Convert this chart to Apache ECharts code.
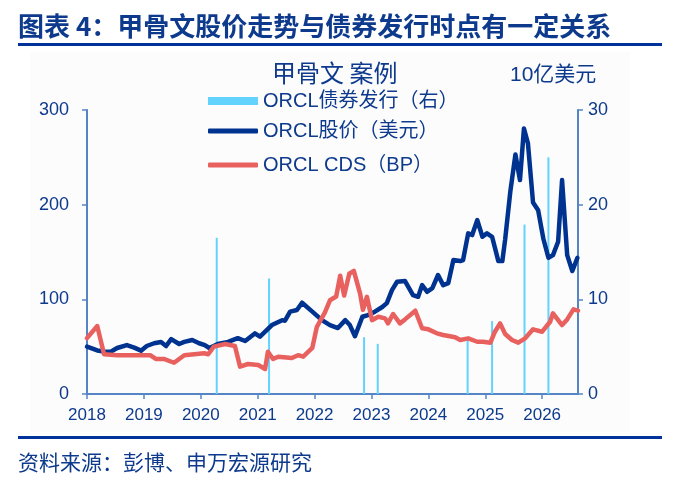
<!DOCTYPE html>
<html>
<head>
<meta charset="utf-8">
<script src="https://cdn.jsdelivr.net/npm/echarts@6/dist/echarts.min.js"></script>
<style>
  html, body { margin: 0; padding: 0; background: #fff; }
  #chart1 { width: 680px; height: 483px; }
</style>
</head>
<body>
<div id="chart1"></div>
<script>
// years shown on the x axis
var years = [2018, 2019, 2020, 2021, 2022, 2023, 2024, 2025, 2026];

// ORCL bond issuance, 10亿美元 (right axis)
var bondDates = [2020.28, 2021.20, 2022.87, 2023.11, 2024.69, 2025.12, 2025.69, 2026.11];
var bondIssue = [16.5, 12.2, 6.0, 5.3, 5.7, 7.7, 17.9, 25.0];

// ORCL share price, USD (left axis)
var stockDates = [2018.00, 2018.18, 2018.30, 2018.42, 2018.53, 2018.70, 2018.83, 2018.95, 2019.05, 2019.18,
  2019.30, 2019.39, 2019.48, 2019.62, 2019.71, 2019.85, 2019.97, 2020.07, 2020.15, 2020.30,
  2020.48, 2020.65, 2020.78, 2020.95, 2021.04, 2021.25, 2021.43, 2021.48, 2021.57, 2021.69,
  2021.78, 2021.96, 2022.13, 2022.27, 2022.41, 2022.54, 2022.62, 2022.71, 2022.84, 2022.94,
  2023.06, 2023.19, 2023.27, 2023.36, 2023.45, 2023.59, 2023.73, 2023.82, 2023.89, 2023.98,
  2024.07, 2024.17, 2024.26, 2024.35, 2024.44, 2024.56, 2024.61, 2024.70, 2024.77, 2024.86,
  2024.95, 2025.03, 2025.12, 2025.23, 2025.30, 2025.35, 2025.44, 2025.53, 2025.61, 2025.68,
  2025.75, 2025.84, 2025.93, 2026.02, 2026.11, 2026.19, 2026.28, 2026.35, 2026.44, 2026.53,
  2026.62];
var stockPrice = [50, 46, 45, 44.7, 48.6, 51.7, 49, 45.8, 50.7, 53.6,
  55, 50.7, 58, 52.8, 55, 57, 53.6, 51.7, 48.6, 52.8,
  55, 59, 56, 64, 60.5, 72.8, 78, 77.4, 87, 88.7,
  96.4, 87, 78, 72.8, 69.7, 78, 72.8, 61, 81.6, 83.4,
  87, 91.9, 96, 109.8, 118.6, 119.3, 104.5, 102.7, 115, 108,
  111.9, 125.7, 115, 117.2, 141.5, 140.4, 141.5, 169.7, 167.9, 183.7,
  166.1, 169.7, 166.1, 140.4, 140.4, 163.4, 213.6, 253, 226, 280.5,
  264.7, 202.2, 194, 164.3, 143.9, 146.7, 160.8, 226, 146.7, 129.9,
  143.9];

// ORCL CDS spread, BP (left axis)
var cdsDates = [2018.00, 2018.18, 2018.30, 2018.53, 2019.11, 2019.21, 2019.35, 2019.53, 2019.71, 2020.06,
  2020.13, 2020.23, 2020.43, 2020.60, 2020.69, 2020.83, 2021.01, 2021.13, 2021.18, 2021.27,
  2021.36, 2021.60, 2021.71, 2021.80, 2021.96, 2022.04, 2022.18, 2022.27, 2022.38, 2022.45,
  2022.52, 2022.61, 2022.69, 2022.80, 2022.85, 2022.92, 2023.01, 2023.12, 2023.24, 2023.29,
  2023.38, 2023.50, 2023.59, 2023.77, 2023.89, 2024.00, 2024.15, 2024.26, 2024.47, 2024.56,
  2024.70, 2024.86, 2024.96, 2025.09, 2025.17, 2025.26, 2025.35, 2025.47, 2025.58, 2025.70,
  2025.84, 2026.00, 2026.14, 2026.19, 2026.35, 2026.44, 2026.55, 2026.63];
var cdsSpread = [59, 71.8, 42, 41, 41, 37, 37, 33, 41, 43,
  42, 50, 52.8, 50.7, 28.9, 31.7, 30.6, 26.4, 44.7, 37,
  39.4, 38, 41, 39.4, 48.6, 71, 86, 99, 103, 125,
  104, 127, 130, 106, 89, 102.7, 78, 81.6, 79.9, 74.6,
  84.5, 74.6, 78.8, 88, 69.4, 68.3, 64.1, 62.3, 59.9, 57,
  58.8, 55.2, 55.2, 54.2, 65.8, 74.6, 63.4, 57, 54.2, 58.8,
  68.3, 65.8, 76.3, 85.2, 72.8, 78.8, 89.4, 88];

function zip(xs, ys) {
  return xs.map(function (x, i) { return [x, ys[i]]; });
}

var textBlue = "#0d3a8c";
var axisBlue = "#5585c5";
var fontLatin = "'Liberation Sans', Arial, 'Noto Sans CJK SC', sans-serif";
var fontCJK = "'Noto Sans CJK SC', sans-serif";

var chartDom = document.getElementById("chart1");
var myChart = echarts.init(chartDom);
var option;

option = {
  animation: false,
  textStyle: { fontFamily: fontLatin },
  graphic: [
    { type: "rect", z: -10, shape: { x: 30, y: 52, width: 600, height: 380 }, style: { fill: "#fcfcfd" } },
    { type: "text", left: 18, top: 13, style: { text: "图表 4：甲骨文股价走势与债券发行时点有一定关系", fontSize: 26, fontWeight: "bold", fill: textBlue, fontFamily: fontCJK } },
    { type: "rect", shape: { x: 18, y: 43, width: 644, height: 3 }, style: { fill: "#003399" } },
    { type: "rect", shape: { x: 18, y: 436, width: 644, height: 3 }, style: { fill: "#003399" } },
    { type: "text", left: 18, top: 452, style: { text: "资料来源：彭博、申万宏源研究", fontSize: 21, fill: textBlue, fontFamily: fontCJK } },
    { type: "text", left: 272, top: 61, style: { text: "甲骨文 案例", fontSize: 24, fill: textBlue, fontFamily: fontCJK } },
    { type: "text", left: 510, top: 65, style: { text: "10亿美元", fontSize: 21, fill: textBlue, fontFamily: fontLatin } },
  ],
  legend: [
    {
      orient: "vertical",
      left: 208,
      top: 91,
      padding: 0,
      itemWidth: 50,
      itemHeight: 8,
      textStyle: { fontSize: 20, color: textBlue, lineHeight: 20, fontFamily: fontLatin },
      data: [{ name: "ORCL债券发行（右）", icon: "rect" }],
    },
    {
      orient: "vertical",
      left: 208,
      top: 121,
      padding: 0,
      itemWidth: 50,
      itemHeight: 5,
      itemGap: 14,
      textStyle: { fontSize: 20, color: textBlue, lineHeight: 20, fontFamily: fontLatin },
      data: [
        { name: "ORCL股价（美元）", icon: "roundRect" },
        { name: "ORCL CDS（BP）", icon: "roundRect" },
      ],
    },
  ],
  grid: { left: 87, right: 102, top: 110, bottom: 89 },
  xAxis: {
    type: "value",
    min: 2018,
    max: 2026.63,
    splitLine: { show: false },
    axisLine: { lineStyle: { color: axisBlue, width: 2 } },
    axisTick: { customValues: years, length: 5, lineStyle: { color: axisBlue, width: 1.5 } },
    axisLabel: {
      customValues: years,
      fontSize: 17,
      color: textBlue,
      margin: 13,
      formatter: function (v) { return String(Math.round(v)); },
    },
  },
  yAxis: [
    {
      type: "value",
      min: 0,
      max: 300,
      interval: 100,
      splitLine: { show: false },
      axisLine: { show: true, lineStyle: { color: axisBlue, width: 2 } },
      axisTick: { show: true, length: 5, lineStyle: { color: axisBlue, width: 1.5 } },
      axisLabel: { fontSize: 18, color: textBlue, margin: 18 },
    },
    {
      type: "value",
      min: 0,
      max: 30,
      interval: 10,
      splitLine: { show: false },
      axisLine: { show: true, lineStyle: { color: axisBlue, width: 2 } },
      axisTick: { show: true, length: 5, lineStyle: { color: axisBlue, width: 1.5 } },
      axisLabel: { fontSize: 18, color: textBlue, margin: 10 },
    },
  ],
  series: [
    {
      name: "ORCL债券发行（右）",
      type: "bar",
      yAxisIndex: 1,
      barWidth: 2,
      itemStyle: { color: "#62d2ff" },
      data: zip(bondDates, bondIssue),
    },
    {
      name: "ORCL股价（美元）",
      type: "line",
      symbol: "none",
      lineStyle: { color: "#00338f", width: 4.5, cap: "round", join: "round" },
      itemStyle: { color: "#00338f" },
      data: zip(stockDates, stockPrice),
    },
    {
      name: "ORCL CDS（BP）",
      type: "line",
      symbol: "none",
      lineStyle: { color: "#e8615f", width: 4.5, cap: "round", join: "round" },
      itemStyle: { color: "#e8615f" },
      data: zip(cdsDates, cdsSpread),
    },
  ],
};

option && myChart.setOption(option);
</script>
</body>
</html>
